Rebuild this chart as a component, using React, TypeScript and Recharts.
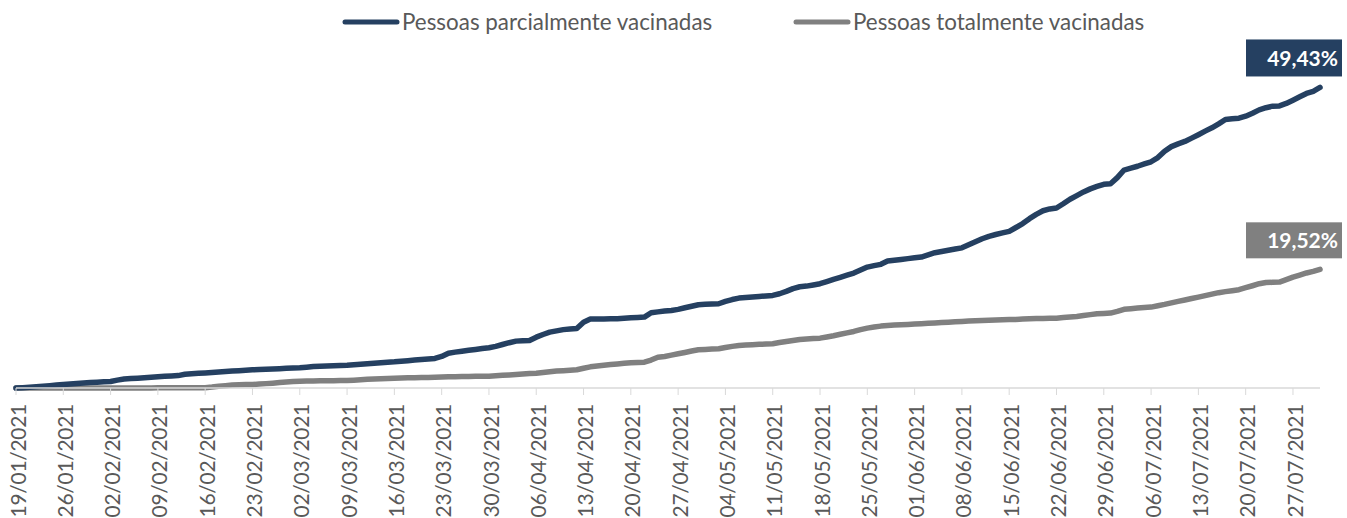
import React from 'react';
import { LineChart, Line, XAxis, YAxis, LabelList } from 'recharts';

// daily share of population (%), 19/01/2021 .. 31/07/2021
const parcial = [
  0.00, 0.06, 0.12, 0.20, 0.29, 0.38, 0.48,
  0.58, 0.66, 0.74, 0.82, 0.89, 0.96, 1.03,
  1.08, 1.30, 1.48, 1.55, 1.62, 1.70, 1.78,
  1.86, 1.92, 1.98, 2.04, 2.25, 2.36, 2.42,
  2.48, 2.56, 2.62, 2.70, 2.78, 2.85, 2.92,
  3.00, 3.04, 3.08, 3.13, 3.18, 3.24, 3.29,
  3.33, 3.42, 3.52, 3.59, 3.63, 3.67, 3.71,
  3.75, 3.82, 3.90, 3.99, 4.08, 4.17, 4.25,
  4.31, 4.40, 4.50, 4.60, 4.68, 4.76, 4.86,
  5.19, 5.73, 5.90, 6.05, 6.20, 6.34, 6.48,
  6.62, 6.85, 7.15, 7.45, 7.71, 7.77, 7.82,
  8.36, 8.80, 9.19, 9.40, 9.60, 9.72, 9.80,
  10.83, 11.33, 11.35, 11.36, 11.37, 11.39, 11.47,
  11.56, 11.61, 11.66, 12.38, 12.52, 12.66, 12.76,
  12.93, 13.20, 13.45, 13.70, 13.76, 13.82, 13.86,
  14.24, 14.55, 14.79, 14.88, 14.97, 15.06, 15.15,
  15.23, 15.50, 15.89, 16.35, 16.65, 16.76, 16.95,
  17.15, 17.50, 17.87, 18.20, 18.55, 18.90, 19.40,
  19.89, 20.12, 20.34, 20.88, 21.02, 21.15, 21.28,
  21.41, 21.54, 21.90, 22.25, 22.45, 22.65, 22.85,
  23.05, 23.55, 24.05, 24.55, 24.95, 25.25, 25.52,
  25.77, 26.40, 27.04, 27.85, 28.55, 29.15, 29.45,
  29.60, 30.30, 31.05, 31.65, 32.25, 32.75, 33.15,
  33.51, 33.60, 34.60, 35.85, 36.15, 36.47, 36.85,
  37.21, 37.90, 38.95, 39.70, 40.15, 40.55, 41.10,
  41.66, 42.25, 42.80, 43.45, 44.16, 44.28, 44.38,
  44.71, 45.20, 45.75, 46.10, 46.35, 46.40, 46.80,
  47.34, 47.90, 48.45, 48.80, 49.43,
];

const total = [
  0.00, 0.00, 0.00, 0.00, 0.00, 0.00, 0.00,
  0.00, 0.00, 0.00, 0.00, 0.00, 0.00, 0.00,
  0.00, 0.01, 0.01, 0.01, 0.02, 0.02, 0.02,
  0.03, 0.03, 0.03, 0.04, 0.04, 0.05, 0.05,
  0.06, 0.15, 0.27, 0.38, 0.48, 0.55, 0.57,
  0.58, 0.64, 0.72, 0.80, 0.90, 0.98, 1.06,
  1.12, 1.14, 1.16, 1.18, 1.20, 1.21, 1.22,
  1.23, 1.28, 1.35, 1.42, 1.48, 1.54, 1.58,
  1.61, 1.64, 1.67, 1.70, 1.72, 1.74, 1.76,
  1.80, 1.84, 1.86, 1.88, 1.90, 1.92, 1.93,
  1.94, 2.00, 2.08, 2.15, 2.22, 2.30, 2.37,
  2.44, 2.56, 2.68, 2.78, 2.85, 2.92, 3.00,
  3.25, 3.48, 3.62, 3.74, 3.85, 3.96, 4.06,
  4.15, 4.20, 4.25, 4.60, 5.07, 5.19, 5.40,
  5.63, 5.85, 6.08, 6.29, 6.35, 6.40, 6.45,
  6.65, 6.85, 7.00, 7.06, 7.12, 7.18, 7.23,
  7.28, 7.47, 7.66, 7.82, 7.99, 8.06, 8.13,
  8.20, 8.40, 8.60, 8.83, 9.06, 9.30, 9.60,
  9.85, 10.02, 10.18, 10.29, 10.35, 10.41, 10.46,
  10.52, 10.57, 10.64, 10.70, 10.77, 10.83, 10.89,
  10.94, 11.00, 11.05, 11.11, 11.14, 11.18, 11.21,
  11.25, 11.28, 11.33, 11.39, 11.42, 11.44, 11.47,
  11.49, 11.58, 11.68, 11.77, 11.92, 12.07, 12.22,
  12.27, 12.32, 12.60, 12.95, 13.05, 13.14, 13.23,
  13.31, 13.53, 13.75, 14.00, 14.24, 14.48, 14.72,
  14.95, 15.20, 15.44, 15.68, 15.85, 16.01, 16.17,
  16.50, 16.82, 17.15, 17.35, 17.38, 17.42, 17.82,
  18.24, 18.58, 18.92, 19.18, 19.52,
];

const startDate = Date.UTC(2021, 0, 19);
const pad = (n: number) => String(n).padStart(2, '0');
const dates = parcial.map((_, i) => {
  const d = new Date(startDate + i * 86400000);
  return `${pad(d.getUTCDate())}/${pad(d.getUTCMonth() + 1)}/${d.getUTCFullYear()}`;
});

const seriesNames = ['Pessoas parcialmente vacinadas', 'Pessoas totalmente vacinadas'];
const colors = { parcial: '#254061', total: '#808080' };

const data = dates.map((date, i) => ({ date, parcial: parcial[i], total: total[i] }));
const lastIndex = data.length - 1;

const FONT = 'Lato, "Open Sans", sans-serif';

const DateTick = ({ x, y, payload }: any) => {
  const ty = y + 7;
  const tx = x + 2;
  return (
    <text
      x={tx}
      y={ty}
      dy="0.36em"
      textAnchor="end"
      transform={`rotate(-90, ${tx}, ${ty})`}
      fill="#595959"
      fontSize={21}
      letterSpacing={-0.3}
      fontFamily={FONT}
    >
      {payload.value}
    </text>
  );
};

// value box at the end of each line
const endLabel = (fill: string, top: number, h: number) => (props: any) => {
  const { x, y, index, value } = props;
  if (index !== lastIndex) return null;
  const bx = x - 74;
  const by = y - top;
  return (
    <g>
      <rect x={bx} y={by} width={96} height={h} fill={fill} />
      <text
        x={bx + 92}
        y={by + h / 2 + 8}
        textAnchor="end"
        fill="#ffffff"
        fontWeight="bold"
        fontSize={21}
        fontFamily={FONT}
      >
        {value.toFixed(2).replace('.', ',')}%
      </text>
    </g>
  );
};

const LegendRow = () => (
  <svg width={1347} height={44} style={{ position: 'absolute', left: 0, top: 0 }}>
    {[
      { x: 345, color: colors.parcial, name: seriesNames[0] },
      { x: 796, color: colors.total, name: seriesNames[1] },
    ].map((item) => (
      <g key={item.name}>
        <line x1={item.x} y1={22} x2={item.x + 52} y2={22} stroke={item.color} strokeWidth={5} strokeLinecap="round" />
        <text x={item.x + 57} y={30} fill="#595959" fontSize={22.4} fontFamily={FONT}>
          {item.name}
        </text>
      </g>
    ))}
  </svg>
);

export default function App() {
  return (
    <div style={{ position: 'absolute', left: 0, top: 0, width: 1347, height: 518, background: '#fff' }}>
      <LegendRow />
      <LineChart
        width={1347}
        height={518}
        data={data}
        margin={{ top: 84, right: 27, left: 16, bottom: 0 }}
      >
        <XAxis
          dataKey="date"
          scale="point"
          interval={6}
          height={130}
          axisLine={{ stroke: '#D9D9D9', strokeWidth: 1.5 }}
          tickLine={{ stroke: '#D9D9D9' }}
          tickSize={7}
          tick={<DateTick />}
        />
        <YAxis hide domain={[0, 50]} />
        <Line
          dataKey="total"
          name={seriesNames[1]}
          stroke={colors.total}
          strokeWidth={5.5}
          strokeLinecap="round"
          strokeLinejoin="round"
          dot={false}
          isAnimationActive={false}
        >
          <LabelList dataKey="total" content={endLabel(colors.total, 47, 36)} />
        </Line>
        <Line
          dataKey="parcial"
          name={seriesNames[0]}
          stroke={colors.parcial}
          strokeWidth={5.5}
          strokeLinecap="round"
          strokeLinejoin="round"
          dot={false}
          isAnimationActive={false}
        >
          <LabelList dataKey="parcial" content={endLabel(colors.parcial, 48, 37)} />
        </Line>
      </LineChart>
    </div>
  );
}
